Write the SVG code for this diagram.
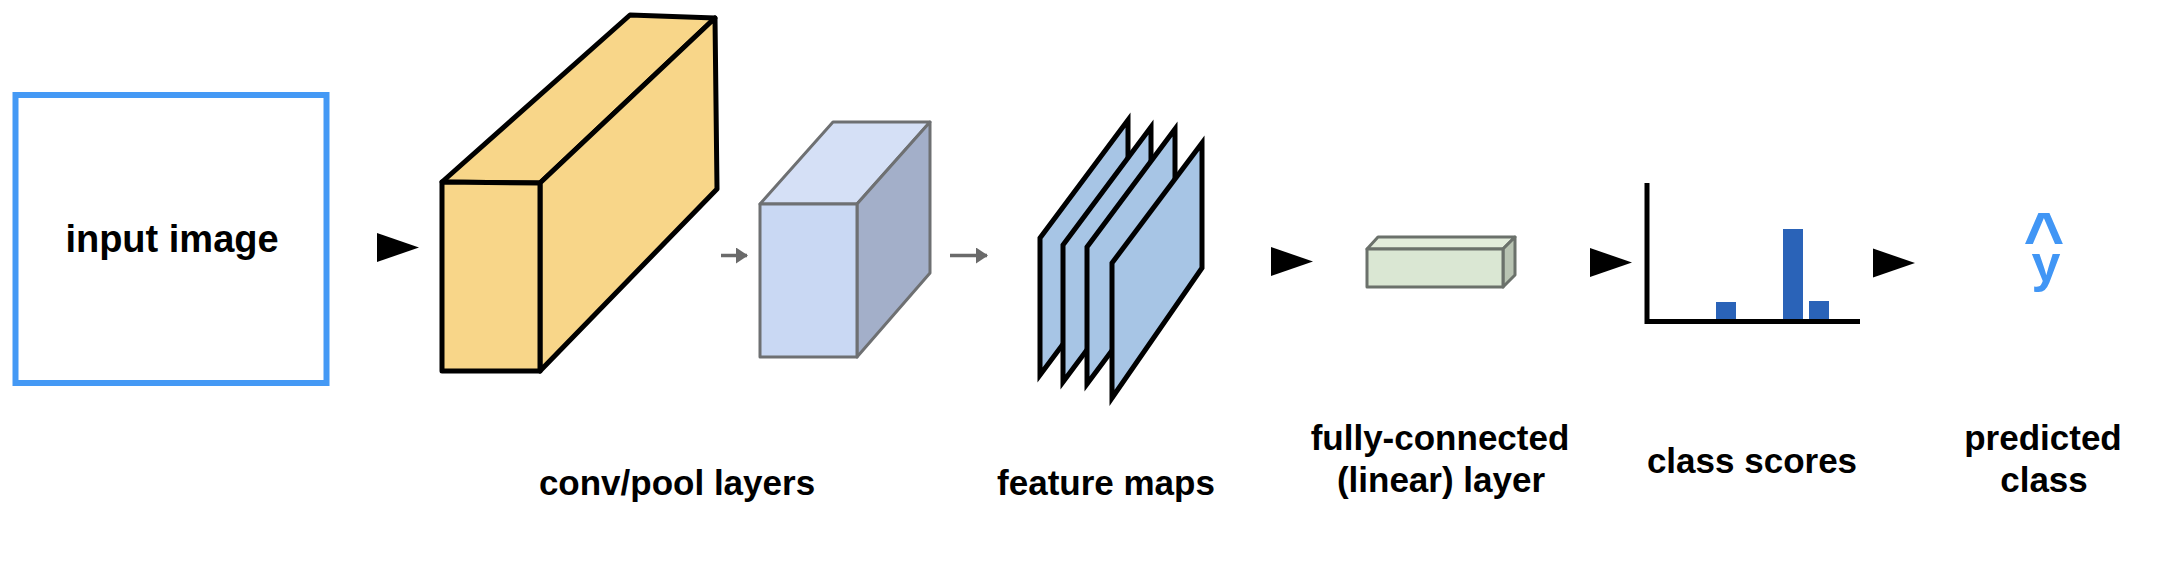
<svg xmlns="http://www.w3.org/2000/svg" width="2158" height="570" viewBox="0 0 2158 570">
<defs>
<style>
.lbl{font-family:"Liberation Sans",Arial,Helvetica,sans-serif;font-weight:bold;font-size:35px;fill:#000;text-anchor:middle}
.yel{fill:#f8d689;stroke:#000;stroke-width:5;stroke-linejoin:round}
.lav{stroke:#6e7072;stroke-width:3;stroke-linejoin:round}
.fm{fill:#a7c5e5;stroke:#000;stroke-width:5;stroke-linejoin:miter}
.fc{stroke:#6b716b;stroke-width:3;stroke-linejoin:round}
.bar{fill:#2a63b8}
.tri{fill:#000}
.garr{stroke:#6a6a6a;stroke-width:3.5;fill:none}
.hat{font-family:"Liberation Sans",Arial,sans-serif;font-weight:bold;fill:#4196f5;text-anchor:middle}
</style>
<path id="tri" d="M0,-14.5 L42,0 L0,14.5 Z"/>
<marker id="gh" viewBox="0 0 12 16" refX="11" refY="8" markerWidth="12" markerHeight="16" markerUnits="userSpaceOnUse" orient="auto">
<path d="M0,0 L12,8 L0,16 Z" fill="#6a6a6a"/>
</marker>
</defs>
<rect width="2158" height="570" fill="#fff"/>

<g id="input-image">
<rect x="15.5" y="95" width="311" height="288" fill="#fff" stroke="#4499f5" stroke-width="6"/>
<text class="lbl" x="172" y="252" style="font-size:38px">input image</text>
</g>

<g id="conv-pool-layers">
<polygon class="yel" points="442,182 630,15 715,18 540,183"/>
<polygon class="yel" points="540,183 715,18 717,189 540,371"/>
<polygon class="yel" points="442,182 540,183 540,371 442,371"/>
<line x1="540" y1="183" x2="540" y2="371" stroke="#000" stroke-width="3.5"/>
<polygon class="lav" fill="#d5e0f6" points="760,204 833,122 930,122 857,204"/>
<polygon class="lav" fill="#a3afc9" points="857,204 930,122 930,273 857,357"/>
<polygon class="lav" fill="#c9d8f3" points="760,204 857,204 857,357 760,357"/>
<text class="lbl" x="677" y="495">conv/pool layers</text>
</g>

<g id="feature-maps">
<polygon class="fm" points="1040,238 1128,120 1128,257 1040,375"/>
<polygon class="fm" points="1063,245 1151,127 1151,264 1063,382"/>
<polygon class="fm" points="1087,247 1175,129 1175,266 1087,384"/>
<polygon class="fm" points="1112,263 1202,143 1202,268 1112,398"/>
<text class="lbl" x="1106" y="495">feature maps</text>
</g>

<g id="fully-connected-layer">
<polygon class="fc" fill="#e2ecdb" points="1367,249 1378,237 1515,237 1503,249"/>
<polygon class="fc" fill="#b9c4b3" points="1503,249 1515,237 1515,275 1503,287"/>
<polygon class="fc" fill="#dae7d3" points="1367,249 1503,249 1503,287 1367,287"/>
<text class="lbl" x="1440" y="450">fully-connected</text>
<text class="lbl" x="1441" y="492">(linear) layer</text>
</g>

<g id="class-scores">
<rect class="bar" x="1716" y="302" width="20" height="18"/>
<rect class="bar" x="1783" y="229" width="20" height="91"/>
<rect class="bar" x="1809" y="301" width="20" height="19"/>
<polyline points="1647,183 1647,321.5 1860,321.5" fill="none" stroke="#000" stroke-width="5"/>
<text class="lbl" x="1752" y="473">class scores</text>
</g>

<g id="predicted-class">
<text class="hat" x="2044" y="262" style="font-size:70px">^</text>
<text class="hat" x="2046" y="281" style="font-size:52px">y</text>
<text class="lbl" x="2043" y="450">predicted</text>
<text class="lbl" x="2044" y="492">class</text>
</g>

<g id="connectors">
<use href="#tri" class="tri" x="377" y="247.5"/>
<line class="garr" x1="721" y1="255.5" x2="747" y2="255.5" marker-end="url(#gh)"/>
<line class="garr" x1="950" y1="255.5" x2="987" y2="255.5" marker-end="url(#gh)"/>
<use href="#tri" class="tri" x="1271" y="261.5"/>
<use href="#tri" class="tri" x="1590" y="262.5"/>
<use href="#tri" class="tri" x="1873" y="263"/>
</g>
</svg>
